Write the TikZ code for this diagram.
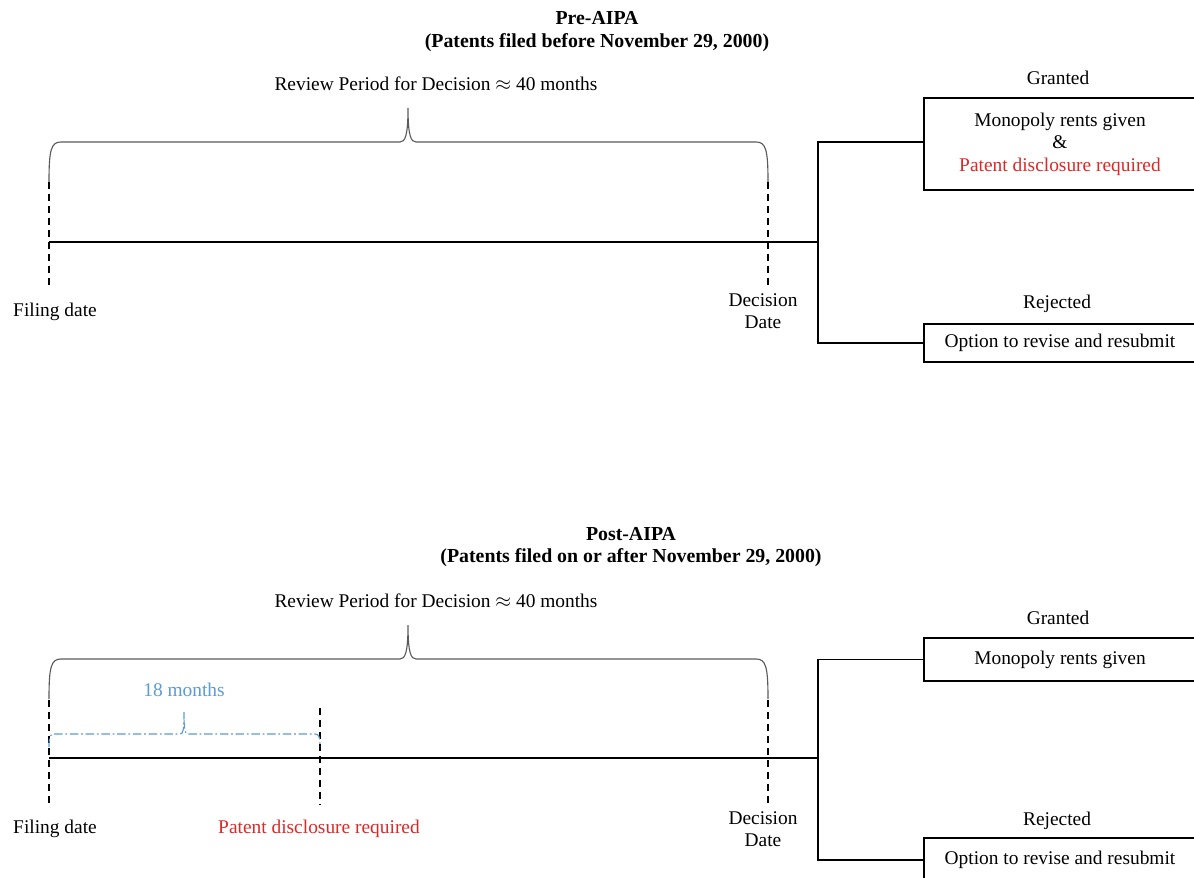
\documentclass[tikz,border=0pt]{standalone}
\usepackage{fontspec}
\setmainfont{Liberation Serif}
\definecolor{textred}{RGB}{222,40,40}
\definecolor{textblue}{RGB}{91,155,213}
\definecolor{bracegray}{RGB}{90,90,90}
\begin{document}
\begin{tikzpicture}[x=0.025cm,y=-0.025cm,
  font=\fontsize{13.8}{16}\selectfont,
  tl/.style={line width=1pt,black},
  dsh/.style={line width=1pt,black,dash pattern=on 5pt off 3.5pt},
  br/.style={line width=0.8pt,draw=bracegray},
  outbox/.style={draw,line width=1pt,minimum width=6.8cm,align=center,inner sep=0pt},
  lbl/.style={inner sep=0pt,align=center},
  ttl/.style={inner sep=0pt,align=center,font=\fontsize{14.1}{16}\selectfont\bfseries},
  revbrace/.pic={\draw[br] (0,40) .. controls (0,8) and (2,0) .. (12,0) -- (351,0)
     .. controls (356,0) and (359,-6) .. (359,-34)
     .. controls (359,-6) and (362,0) .. (367,0) -- (707,0)
     .. controls (717,0) and (719,8) .. (719,40);}
]
\useasboundingbox (0,0) rectangle (1194,878);

% ---------------- Pre-AIPA ----------------
\node[ttl] (t1a) at (597,18) {Pre-AIPA};
\node[ttl] (t1b) at (597,43) {(Patents filed before November 29, 2000)};
\node[lbl] (rev1) at (436,84) {Review Period for Decision $\approx$ 40 months};
\pic at (49,142) {revbrace};

\coordinate (f1) at (49,242);
\coordinate (j1) at (818,242);
\coordinate (d1t) at (49,182);
\coordinate (d1b) at (49,287);
\coordinate (e1t) at (768,182);
\coordinate (e1b) at (768,287);
\draw[dsh] (d1t) -- (d1b);
\draw[dsh] (e1t) -- (e1b);
\draw[tl] (f1) -- (j1);

\node[lbl] (fil1) at (55,312) {Filing date};
\node[lbl] (dec1) at (763,311) {Decision\\Date};

\node[outbox,minimum height=2.3cm] (g1) at (1060,144)
  {Monopoly rents given\\\&\\\textcolor{textred}{Patent disclosure required}};
\node[outbox,minimum height=0.95cm] (r1) at (1060,343) {Option to revise and resubmit};
\node[lbl] (gl1) at (1058,78) {Granted};
\node[lbl] (rl1) at (1057,304) {Rejected};
\coordinate (g1c) at (924,142);
\draw[tl] (j1) |- (g1c);
\draw[tl] (j1) |- (r1.west);

% ---------------- Post-AIPA ----------------
\node[ttl] (t2a) at (631,534) {Post-AIPA};
\node[ttl] (t2b) at (631,558) {(Patents filed on or after November 29, 2000)};
\node[lbl] (rev2) at (436,601) {Review Period for Decision $\approx$ 40 months};
\pic at (49,659) {revbrace};

\coordinate (f2) at (49,758);
\coordinate (j2) at (818,758);
\coordinate (d2t) at (49,700);
\coordinate (d2b) at (49,805);
\coordinate (m2t) at (320,708);
\coordinate (m2b) at (320,805);
\coordinate (e2t) at (768,700);
\coordinate (e2b) at (768,805);
\draw[dsh] (d2t) -- (d2b);
\draw[dsh] (m2t) -- (m2b);
\draw[dsh] (e2t) -- (e2b);

% 18-month brace
\draw[textblue,line width=0.8pt,dash pattern=on 6pt off 2pt on 1.2pt off 2pt]
  (49,747) .. controls (49,737) and (50,734) .. (54,734) -- (180,734)
  .. controls (183,734) and (184,731) .. (184,712)
  .. controls (184,731) and (185,734) .. (188,734) -- (315,734)
  .. controls (319,734) and (320,737) .. (320,747);
\node[lbl,text=textblue] (m18) at (184,690) {18 months};

\draw[tl] (f2) -- (j2);

\node[lbl] (fil2) at (55,829) {Filing date};
\node[lbl,text=textred] (pd2) at (319,829) {Patent disclosure required};
\node[lbl] (dec2) at (763,829) {Decision\\Date};

\node[outbox,minimum height=1.075cm] (g2) at (1060,659.5) {Monopoly rents given};
\node[outbox,minimum height=1.1cm] (r2) at (1060,860) {Option to revise and resubmit};
\node[lbl] (gl2) at (1058,618) {Granted};
\node[lbl] (rl2) at (1057,821) {Rejected};
\draw[tl] (j2) |- (g2.west);
\draw[tl] (j2) |- (r2.west);
\end{tikzpicture}
\end{document}
